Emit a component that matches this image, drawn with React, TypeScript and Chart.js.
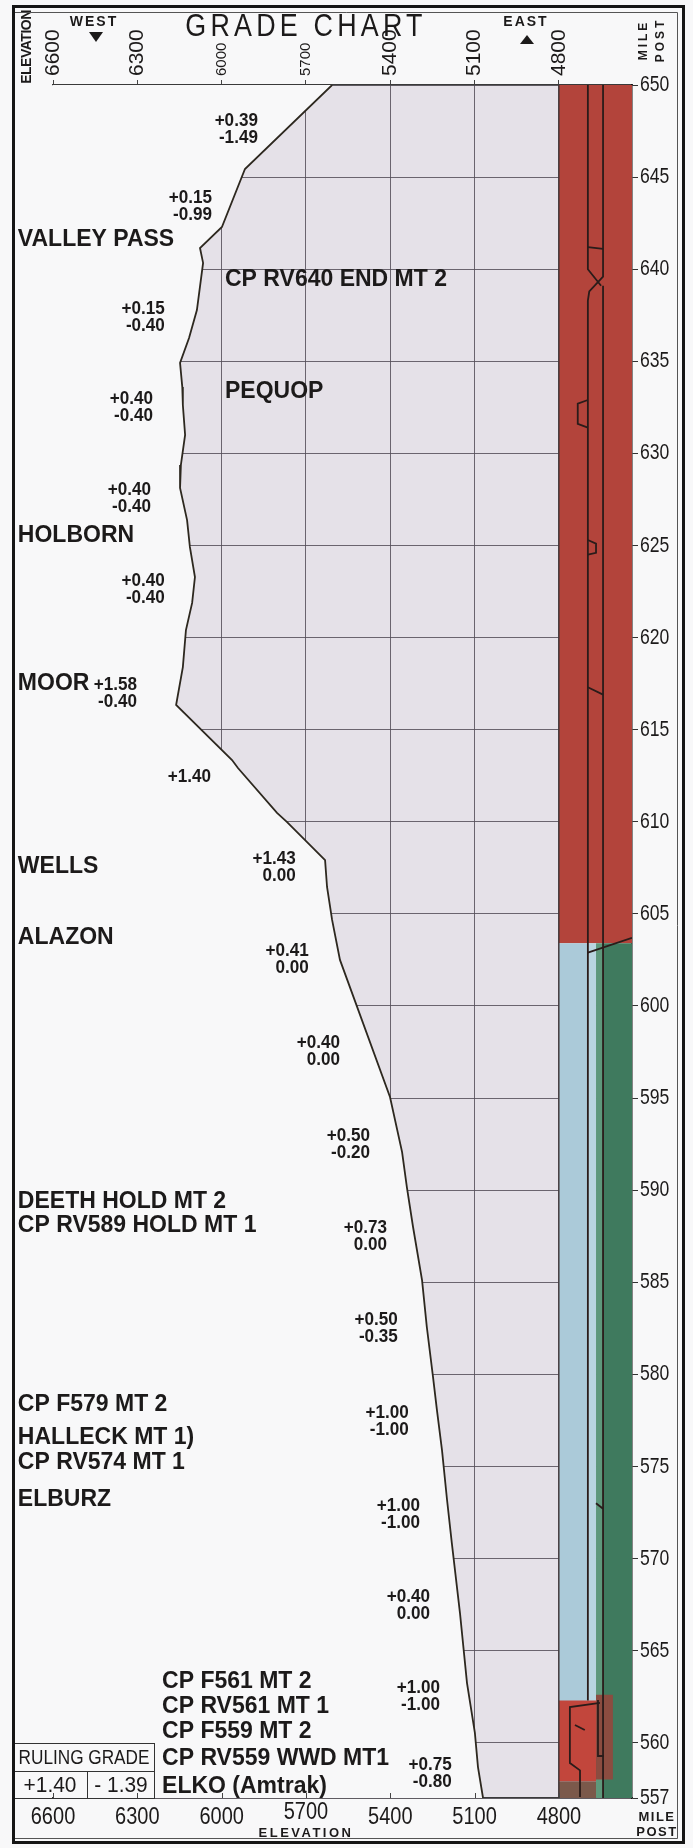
import React, { useEffect, useRef } from 'react';
import { Chart, registerables } from 'chart.js';

Chart.register(...registerables);

// ---------------- data ----------------
const ELEV_TICKS = [6600, 6300, 6000, 5700, 5400, 5100, 4800];
const SMALL_TOP_TICKS = [6000, 5700];
const RAISED_BOTTOM_TICKS = [5700];
const MILE_TICKS = [650, 645, 640, 635, 630, 625, 620, 615, 610, 605, 600, 595, 590, 585, 580, 575, 570, 565, 560, 557];

const PROFILE_MILE = [650.0, 645.44, 642.29, 641.15, 640.34, 637.78, 636.26, 634.91, 633.6, 632.63, 631.0, 629.37, 628.12, 626.38, 624.92, 623.29, 621.88, 620.41, 618.4, 616.34, 613.35, 612.92, 610.48, 609.99, 607.92, 606.46, 604.67, 602.5, 595.06, 592.07, 590.17, 588.0, 585.12, 582.57, 579.86, 578.06, 575.89, 573.18, 570.84, 567.04, 563.24, 560.53, 558.68, 557.0];
const PROFILE_ELEV = [5607, 5917, 5999, 6077, 6066, 6088, 6116, 6148, 6140, 6138, 6130, 6145, 6148, 6123, 6113, 6095, 6105, 6127, 6138, 6162, 5963, 5942, 5803, 5768, 5632, 5625, 5607, 5579, 5401, 5358, 5341, 5319, 5287, 5270, 5248, 5234, 5216, 5198, 5181, 5152, 5127, 5099, 5088, 5070];

const GRADE_UP = ['+0.39', '+0.15', '+0.15', '+0.40', '+0.40', '+0.40', '+1.58', '+1.40', '+1.43', '+0.41', '+0.40', '+0.50', '+0.73', '+0.50', '+1.00', '+1.00', '+0.40', '+1.00', '+0.75'];
const GRADE_DOWN = ['-1.49', '-0.99', '-0.40', '-0.40', '-0.40', '-0.40', '-0.40', '', '0.00', '0.00', '0.00', '-0.20', '0.00', '-0.35', '-1.00', '-1.00', '0.00', '-1.00', '-0.80'];
const GRADE_MILE = [648.05, 643.87, 637.84, 632.95, 628.01, 623.07, 617.43, 612.43, 607.98, 602.98, 597.99, 592.94, 587.95, 582.95, 577.92, 572.87, 567.93, 562.99, 558.79];
const GRADE_ELEV = [5871, 6034, 6202, 6244, 6251, 6202, 6301, 6038, 5736, 5690, 5579, 5472, 5412, 5373, 5334, 5294, 5259, 5223, 5181];

const STATION_NAMES = ['VALLEY PASS', 'CP RV640 END MT 2', 'PEQUOP', 'HOLBORN', 'MOOR', 'WELLS', 'ALAZON', 'DEETH HOLD MT 2', 'CP RV589 HOLD MT 1', 'CP F579 MT 2', 'HALLECK MT 1)', 'CP RV574 MT 1', 'ELBURZ', 'CP F561 MT 2', 'CP RV561 MT 1', 'CP F559 MT 2', 'CP RV559 WWD MT1', 'ELKO (Amtrak)'];
const STATION_MILE = [641.58, 639.41, 633.33, 625.51, 617.48, 607.54, 603.69, 589.36, 588.05, 578.33, 576.59, 575.19, 573.18, 563.31, 561.95, 560.59, 559.12, 557.6];
const STATION_ELEV = [6725, 5988, 5988, 6725, 6725, 6725, 6725, 6725, 6725, 6725, 6725, 6725, 6725, 6212, 6212, 6212, 6212, 6212];

// track panel blocks (elevation-axis units, mileposts)
const BLOCK_KIND = ['redTop', 'blueL', 'blueR', 'greenM', 'greenR', 'brownR', 'redBot', 'brownBot'];
const BLOCK_E0 = [4800, 4800, 4697, 4668, 4643, 4668, 4800, 4800];
const BLOCK_E1 = [4540, 4697, 4668, 4643, 4540, 4608, 4668, 4668];
const BLOCK_M0 = [603.4, 557, 557, 557, 557, 558.0, 557.9, 557];
const BLOCK_M1 = [650, 603.4, 603.4, 603.4, 603.4, 562.6, 562.3, 557.9];

const TRACK_PATHS: number[][][] = [
  [[4697, 650], [4697, 640.0], [4650, 639.1]],
  [[4643, 650], [4643, 639.6], [4692, 638.8], [4697, 638.3], [4697, 562.3]],
  [[4643, 639.1], [4643, 557]],
  [[4697, 641.2], [4643, 641.1]],
  [[4697, 632.9], [4733, 632.7], [4733, 631.6], [4697, 631.4]],
  [[4697, 625.3], [4668, 625.1], [4668, 624.6], [4697, 624.5]],
  [[4697, 617.3], [4643, 616.9]],
  [[4697, 602.9], [4540, 603.7]],
  [[4668, 573.0], [4643, 572.7]],
  [[4654, 562.16], [4761, 561.94], [4761, 558.9], [4725, 558.5], [4725, 557.05]],
  [[4661, 562.32], [4661, 559.28], [4640, 559.28]],
  [[4743, 560.96], [4708, 560.69]],
];
const PANEL_EDGE = [[4800, 650], [4800, 557]];

const RULING_UP = '+1.40';
const RULING_DOWN = '- 1.39';

// ---------------- styles ----------------
const SANS = '"Liberation Sans", Arial, sans-serif';
const INK = '#1c1a1a';
const PAPER = '#f8f8f9';
const LAVENDER = '#e5e1e8';
const GRID = 'rgba(85,78,88,0.85)';
const BLOCK_COLORS: Record<string, string> = {
  redTop: '#b3443b',
  blueL: '#abcad9',
  blueR: '#b9d5e0',
  greenM: '#5e987b',
  greenR: '#3f7a5e',
  brownR: '#8b4c40',
  redBot: '#c2463c',
  brownBot: '#7b594b',
};

function text(ctx: CanvasRenderingContext2D, s: string, x: number, y: number, font: string, align: CanvasTextAlign = 'left', ls = 0, sx = 1, color = INK) {
  ctx.save();
  ctx.translate(x, y);
  ctx.scale(sx, 1);
  ctx.font = font;
  ctx.textAlign = align;
  ctx.textBaseline = 'middle';
  ctx.fillStyle = color;
  (ctx as any).letterSpacing = ls + 'px';
  ctx.fillText(s, 0, 0);
  ctx.restore();
}

function vtext(ctx: CanvasRenderingContext2D, s: string, x: number, y: number, font: string, ls = 0, align: CanvasTextAlign = 'center') {
  ctx.save();
  ctx.translate(x, y);
  ctx.rotate(-Math.PI / 2);
  ctx.font = font;
  ctx.textAlign = align;
  ctx.textBaseline = 'middle';
  ctx.fillStyle = INK;
  (ctx as any).letterSpacing = ls + 'px';
  ctx.fillText(s, 0, 0);
  ctx.restore();
}

const decorPlugin = {
  id: 'decor',
  beforeDraw(chart: any) {
    const { ctx, chartArea } = chart;
    const xs = chart.scales.x;
    ctx.save();
    ctx.fillStyle = PAPER;
    ctx.fillRect(0, 0, chart.width, chart.height);
    const x0 = xs.getPixelForValue(6600);
    const x1 = xs.getPixelForValue(4800);
    ctx.fillStyle = LAVENDER;
    ctx.fillRect(x0, chartArea.top, x1 - x0, chartArea.bottom - chartArea.top);
    ctx.restore();
  },
  afterDraw(chart: any) {
    const { ctx, chartArea } = chart;
    const xs = chart.scales.x;
    const ys = chart.scales.y;

    // axis tick labels (top rotated, bottom narrow, right narrow)
    ELEV_TICKS.forEach((v) => {
      const px = xs.getPixelForValue(v);
      const small = SMALL_TOP_TICKS.includes(v);
      vtext(ctx, String(v), px, chartArea.top - 9, `${small ? 15 : 21}px ${SANS}`, 0, 'left');
      const raised = RAISED_BOTTOM_TICKS.includes(v);
      text(ctx, String(v), px, chartArea.bottom + (raised ? 15 : 20), `23px ${SANS}`, 'center', 0, 0.87);
    });
    MILE_TICKS.forEach((m) => {
      text(ctx, String(m), chartArea.right + 8, ys.getPixelForValue(m), `22px ${SANS}`, 'left', 0, 0.8);
    });

    // bottom upward ticks
    ctx.save();
    ctx.strokeStyle = '#444';
    ctx.lineWidth = 1;
    ELEV_TICKS.forEach((v) => {
      const px = Math.round(xs.getPixelForValue(v)) + 0.5;
      ctx.beginPath();
      ctx.moveTo(px, chartArea.bottom);
      ctx.lineTo(px, chartArea.bottom - 5);
      ctx.stroke();
    });
    ctx.restore();

    // grade labels
    GRADE_UP.forEach((up, i) => {
      const px = xs.getPixelForValue(GRADE_ELEV[i]);
      const py = ys.getPixelForValue(GRADE_MILE[i]);
      text(ctx, up, px, py, `bold 18px ${SANS}`, 'right', 0, 0.95);
      if (GRADE_DOWN[i]) text(ctx, GRADE_DOWN[i], px, py + 17, `bold 18px ${SANS}`, 'right', 0, 0.95);
    });

    // station names
    STATION_NAMES.forEach((n, i) => {
      const px = xs.getPixelForValue(STATION_ELEV[i]);
      const py = ys.getPixelForValue(STATION_MILE[i]);
      text(ctx, n, px, py, `bold 23px ${SANS}`, 'left');
    });

    // ruling grade box
    ctx.save();
    ctx.strokeStyle = '#333';
    ctx.lineWidth = 1;
    ctx.strokeRect(13.5, 1743.5, 141, 55);
    ctx.beginPath();
    ctx.moveTo(13.5, 1771.5);
    ctx.lineTo(154.5, 1771.5);
    ctx.moveTo(87.5, 1771.5);
    ctx.lineTo(87.5, 1798.5);
    ctx.stroke();
    ctx.restore();
    text(ctx, 'RULING GRADE', 84, 1758, `20px ${SANS}`, 'center', 0, 0.86);
    text(ctx, RULING_UP, 50, 1786, `22px ${SANS}`, 'center', 0, 0.95);
    text(ctx, RULING_DOWN, 121, 1786, `22px ${SANS}`, 'center', 0, 0.95);

    // header
    vtext(ctx, 'ELEVATION', 27, 47, `bold 14px ${SANS}`, -0.5);
    text(ctx, 'WEST', 94, 22, `bold 14px ${SANS}`, 'center', 2);
    text(ctx, 'EAST', 526, 22, `bold 14px ${SANS}`, 'center', 2);
    ctx.save();
    ctx.fillStyle = INK;
    ctx.beginPath();
    ctx.moveTo(89, 32); ctx.lineTo(103, 32); ctx.lineTo(96, 42); ctx.closePath();
    ctx.fill();
    ctx.beginPath();
    ctx.moveTo(520, 44); ctx.lineTo(534, 44); ctx.lineTo(527, 35); ctx.closePath();
    ctx.fill();
    ctx.restore();
    text(ctx, 'GRADE CHART', 306, 27, `32px ${SANS}`, 'center', 5, 0.84);
    vtext(ctx, 'MILE', 644, 40, `bold 12px ${SANS}`, 3);
    vtext(ctx, 'POST', 661, 40, `bold 12px ${SANS}`, 3);

    // bottom labels
    text(ctx, 'ELEVATION', 306, 1833, `bold 13px ${SANS}`, 'center', 2.5);
    text(ctx, 'MILE', 657, 1817, `bold 13px ${SANS}`, 'center', 1.5);
    text(ctx, 'POST', 657, 1832, `bold 13px ${SANS}`, 'center', 1.5);

    // frame
    ctx.save();
    ctx.strokeStyle = '#151515';
    ctx.lineWidth = 3;
    ctx.strokeRect(13.5, 6.5, 670, 1836);
    ctx.lineWidth = 1;
    ctx.strokeStyle = '#555';
    ctx.beginPath();
    ctx.moveTo(15, 12.5); ctx.lineTo(677.5, 12.5); ctx.lineTo(677.5, 1838.5); ctx.lineTo(15, 1838.5);
    ctx.stroke();
    ctx.restore();
  },
};

export default function App() {
  const ref = useRef<HTMLCanvasElement | null>(null);

  useEffect(() => {
    document.body.style.margin = '0';
    const canvas = ref.current;
    if (!canvas) return;

    const profilePts = PROFILE_MILE.map((m, i) => ({ x: PROFILE_ELEV[i], y: m }));
    const whitePts = [...profilePts].reverse().concat([{ x: 6720, y: 650 }, { x: 6720, y: 557 }]);

    const base = { type: 'line' as const, pointRadius: 0, tension: 0, fill: false as any, borderWidth: 0 };
    const datasets: any[] = [];

    datasets.push({ ...base, data: whitePts, fill: 'shape', backgroundColor: PAPER, borderColor: 'transparent', order: 90 });

    BLOCK_KIND.forEach((k, i) => {
      datasets.push({
        ...base,
        data: [
          { x: BLOCK_E0[i], y: BLOCK_M0[i] },
          { x: BLOCK_E0[i], y: BLOCK_M1[i] },
          { x: BLOCK_E1[i], y: BLOCK_M1[i] },
          { x: BLOCK_E1[i], y: BLOCK_M0[i] },
        ],
        fill: 'shape',
        backgroundColor: BLOCK_COLORS[k],
        borderColor: 'transparent',
        order: 60 - i,
      });
    });

    datasets.push({ ...base, data: PANEL_EDGE.map(([x, y]) => ({ x, y })), borderColor: '#3a3030', borderWidth: 1.2, order: 8 });
    TRACK_PATHS.forEach((p) => {
      datasets.push({ ...base, data: p.map(([x, y]) => ({ x, y })), borderColor: '#2a1c1a', borderWidth: 1.8, order: 6 });
    });

    datasets.push({ ...base, data: profilePts, borderColor: '#2d281f', borderWidth: 1.8, order: 4 });

    const xCommon = { type: 'linear' as const, min: 4540, max: 6600, reverse: true };

    const chart = new Chart(canvas, {
      type: 'line',
      data: { datasets },
      plugins: [decorPlugin],
      options: {
        animation: false,
        responsive: false,
        devicePixelRatio: 1,
        events: [],
        layout: { padding: { left: 53, top: 0, right: 0, bottom: 0 } },
        plugins: { legend: { display: false }, tooltip: { enabled: false } },
        scales: {
          x: {
            ...xCommon,
            position: 'top',
            z: 1,
            afterBuildTicks: (s: any) => { s.ticks = ELEV_TICKS.map((v) => ({ value: v })); },
            afterFit: (s: any) => { s.height = 85; },
            grid: { display: true, drawOnChartArea: false, drawTicks: true, tickLength: 5, color: '#444' },
            border: { display: true, color: '#3a3a3a', width: 1.2 },
            ticks: { display: false, autoSkip: false },
          },
          xb: {
            ...xCommon,
            position: 'bottom',
            afterBuildTicks: (s: any) => { s.ticks = ELEV_TICKS.map((v) => ({ value: v })); },
            afterFit: (s: any) => { s.height = 50; },
            grid: { display: true, drawOnChartArea: true, drawTicks: false, color: GRID, lineWidth: 1 },
            border: { display: true, color: '#3a3a3a', width: 1.2 },
            ticks: { display: false, autoSkip: false },
          },
          y: {
            type: 'linear',
            position: 'right',
            min: 557,
            max: 650,
            afterBuildTicks: (s: any) => { s.ticks = MILE_TICKS.map((v) => ({ value: v })); },
            afterFit: (s: any) => { s.width = 61; },
            grid: { display: true, drawOnChartArea: true, drawTicks: true, tickLength: 6, color: GRID, tickColor: '#333', lineWidth: 1 },
            border: { display: true, color: '#111', width: 1.5 },
            ticks: { display: false, autoSkip: false },
          },
        },
      } as any,
    });

    return () => chart.destroy();
  }, []);

  return (
    <div style={{ width: 693, height: 1848, position: 'relative' }}>
      <canvas ref={ref} width={693} height={1848} style={{ display: 'block', width: 693, height: 1848 }} />
    </div>
  );
}
